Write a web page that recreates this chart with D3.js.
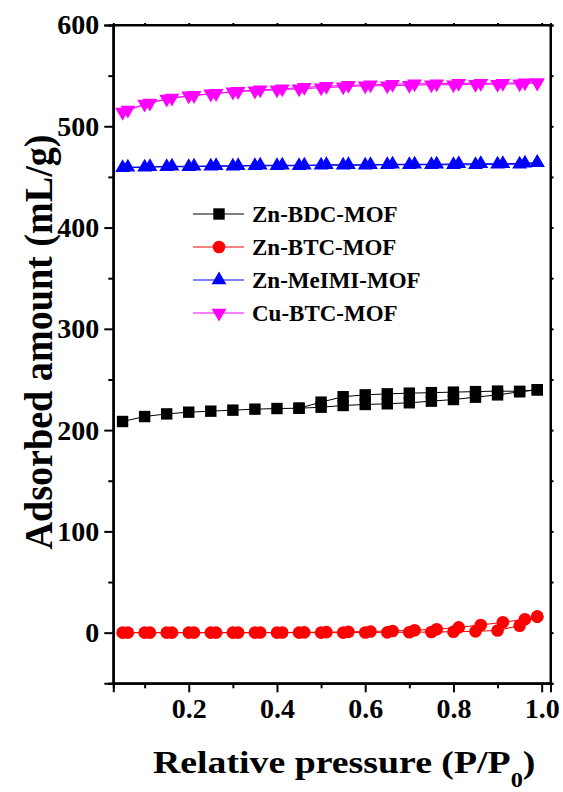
<!DOCTYPE html>
<html>
<head>
<meta charset="utf-8">
<script src="https://cdn.jsdelivr.net/npm/d3@7"></script>
<style>
  body { margin: 0; background: #fff; }
  text { font-family: "Liberation Serif", "Times New Roman", serif; font-weight: bold; }
</style>
</head>
<body>
<svg id="chart" width="563" height="792"></svg>
<script>
// relative pressure of the adsorption points and of the desorption points
const pAds = [0.05, 0.1, 0.15, 0.2, 0.25, 0.3, 0.35, 0.4, 0.45, 0.5, 0.55, 0.6, 0.65, 0.7, 0.75, 0.8, 0.85, 0.9, 0.95, 0.99];
const pDes = [0.99, 0.962, 0.912, 0.862, 0.812, 0.762, 0.712, 0.662, 0.612, 0.562, 0.512, 0.462, 0.412, 0.362, 0.312, 0.262, 0.212, 0.162, 0.112, 0.062];
const pDesBDC = [0.99, 0.95, 0.9, 0.85, 0.8, 0.75, 0.7, 0.65, 0.6, 0.55, 0.5, 0.45];

// Zn-BDC-MOF
const bdcAds = [208.5, 213.4, 216, 217.7, 218.7, 219.7, 220.7, 221.3, 221.6, 222.6, 224.3, 225.3, 226, 227, 228.6, 230.2, 232.5, 234.8, 237.8, 239.8];
const bdcDes = [239.8, 238.3, 238.5, 238, 237.5, 237, 236.5, 235.8, 234.8, 233, 227.6, 221.6];
// Zn-BTC-MOF
const btcAds = [0, 0, 0, 0, 0, 0, 0, 0, 0, 0, 0, 0.2, 0.3, 0.4, 0.6, 0.9, 1.3, 2.2, 6.9, 15.8];
const btcDes = [15.8, 13.3, 10.2, 7.6, 5.2, 3.4, 2.4, 1.7, 1.2, 0.8, 0.5, 0.3, 0.2, 0.1, 0, 0, 0, 0, 0, 0];
// Zn-MeIMI-MOF
const meimiAds = [459, 459.5, 460, 460, 460.5, 460.5, 461, 461, 461, 461.5, 461.5, 461.5, 462, 462, 462, 462, 462, 462.5, 462.5, 464];
const meimiDes = [464, 463.5, 463, 463, 463, 462.5, 462.5, 462.5, 462, 462, 462, 461.5, 461.5, 461.5, 461, 461, 460.5, 460.5, 460, 459.5];
// Cu-BTC-MOF
const cuAds = [514, 522, 527, 530, 532, 534, 535, 536, 537, 538, 539, 540, 540, 540.5, 541, 541, 541.5, 541.5, 542, 543];
const cuDes = [543, 543, 542.5, 542.5, 542.5, 542, 542, 541.5, 541, 540.5, 539.5, 538.5, 537, 536, 534.5, 532.5, 530.5, 528, 523, 516];

const xTicks = [0.2, 0.4, 0.6, 0.8, 1.0];
const xMinor = [0.1, 0.3, 0.5, 0.7, 0.9];
const yTicks = [0, 100, 200, 300, 400, 500, 600];
const yMinor = [-50, 50, 150, 250, 350, 450, 550];

const series = [
  { name: "Zn-BDC-MOF", color: "#000", shape: "square", ads: bdcAds, des: bdcDes, pd: pDesBDC },
  { name: "Zn-BTC-MOF", color: "#ff0000", shape: "circle", ads: btcAds, des: btcDes, pd: pDes },
  { name: "Zn-MeIMI-MOF", color: "#0000ff", shape: "up", ads: meimiAds, des: meimiDes, pd: pDes },
  { name: "Cu-BTC-MOF", color: "#ff00ff", shape: "down", ads: cuAds, des: cuDes, pd: pDes }
];

const plotL = 113.3, plotR = 550.5, plotT = 25, plotB = 683.3;

const svg = d3.select("#chart");
const x = d3.scaleLinear().domain([0.029, 1.02]).range([plotL, plotR]);
const y = d3.scaleLinear().domain([-50, 600]).range([plotB, plotT]);

function symbolPath(shape) {
  if (shape === "square") return d3.symbol(d3.symbolSquare, 130)();
  if (shape === "circle") return d3.symbol(d3.symbolCircle, 125)();
  return d3.symbol(d3.symbolTriangle, 95)();
}
function symbolTransform(shape, px, py) {
  return "translate(" + px + "," + py + ")" + (shape === "down" ? " rotate(180)" : "");
}

// axes
const tickFont = "28px";
svg.append("g").attr("transform", "translate(0," + plotB + ")")
  .call(d3.axisBottom(x).tickValues(xTicks).tickFormat(d3.format(".1f")).tickSize(9).tickPadding(6));
svg.append("g").attr("transform", "translate(0," + plotB + ")")
  .call(d3.axisBottom(x).tickValues(xMinor).tickFormat("").tickSize(5));
svg.append("g").attr("transform", "translate(" + plotL + ",0)")
  .call(d3.axisLeft(y).tickValues(yTicks).tickFormat(d3.format("d")).tickSize(9).tickPadding(5));
svg.append("g").attr("transform", "translate(" + plotL + ",0)")
  .call(d3.axisLeft(y).tickValues(yMinor).tickFormat("").tickSize(5));
svg.append("g").attr("transform", "translate(" + plotR + ",0)")
  .call(d3.axisRight(y).tickValues(yTicks.concat(yMinor)).tickFormat("").tickSize(3));
svg.append("g").attr("transform", "translate(0," + plotT + ")")
  .call(d3.axisTop(x).tickValues(xTicks.concat(xMinor)).tickFormat("").tickSize(2));

svg.selectAll(".domain").attr("stroke-width", 2);
svg.selectAll(".tick line").attr("stroke-width", 2);
svg.selectAll(".tick text").attr("font-size", tickFont).attr("fill", "#000")
  .attr("font-family", "'Liberation Serif', serif").attr("font-weight", "bold");

// frame
svg.append("rect").attr("x", plotL).attr("y", plotT).attr("width", plotR - plotL).attr("height", plotB - plotT)
  .attr("fill", "none").attr("stroke", "#000").attr("stroke-width", 2);

// data
const line = d3.line().x(d => x(d[0])).y(d => y(d[1]));
series.forEach(s => {
  const ads = pAds.map((p, i) => [p, s.ads[i]]);
  const des = s.pd.map((p, i) => [p, s.des[i]]);
  const g = svg.append("g");
  [ads, des].forEach(pts => {
    g.append("path").datum(pts).attr("d", line)
      .attr("fill", "none").attr("stroke", s.color).attr("stroke-width", 1);
  });
  g.selectAll("path.m").data(ads.concat(des)).join("path").attr("class", "m")
    .attr("d", symbolPath(s.shape))
    .attr("transform", d => symbolTransform(s.shape, x(d[0]), y(d[1])))
    .attr("fill", s.color);
});

// legend
const leg = svg.append("g");
series.forEach((s, i) => {
  const ly = 214 + i * 33;
  leg.append("line").attr("x1", 193).attr("x2", 244).attr("y1", ly).attr("y2", ly)
    .attr("stroke", s.color).attr("stroke-width", 1);
  leg.append("path").attr("d", symbolPath(s.shape))
    .attr("transform", symbolTransform(s.shape, 219, ly)).attr("fill", s.color);
  leg.append("text").attr("x", 252).attr("y", ly + 8).attr("font-size", "23px").text(s.name);
});

// axis titles (the original is stretched wide)
const xt = svg.append("g").attr("transform", "translate(153,773) scale(1.22,1)")
  .append("text").attr("font-size", "31px");
xt.append("tspan").text("Relative pressure (P/P");
xt.append("tspan").attr("font-size", "20px").attr("dy", 14).text("0");
xt.append("tspan").attr("dy", -14).text(")");

svg.append("text").attr("transform", "translate(52,342) rotate(-90)")
  .attr("text-anchor", "middle").attr("font-size", "40px")
  .attr("textLength", 415).attr("lengthAdjust", "spacingAndGlyphs")
  .text("Adsorbed amount (mL/g)");
</script>
</body>
</html>
